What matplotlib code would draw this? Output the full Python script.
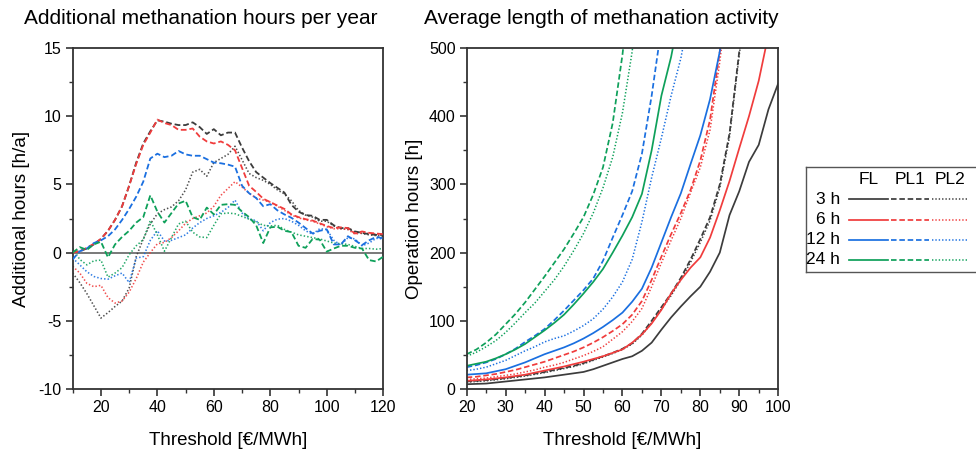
import numpy as np
import matplotlib
matplotlib.use("Agg")
import matplotlib.pyplot as plt
from matplotlib.ticker import MultipleLocator
from matplotlib.lines import Line2D

plt.rcParams['font.family'] = ['Liberation Sans', 'DejaVu Sans']
plt.rcParams['axes.unicode_minus'] = False

# --- left panel: additional hours vs FL (h/a) ---
thr_left = np.arange(10, 120.1, 2.5)

add_3h_pl1 = [0.05, 0.1, 0.3, 0.6, 1.0, 1.6, 2.4, 3.4, 4.9, 6.6, 8.0, 8.9, 9.7, 9.6, 9.45, 9.35,
              9.35, 9.55, 9.2, 8.7, 9.05, 8.6, 8.8, 8.8, 7.7, 6.7, 5.9, 5.5, 5.1,
              4.75, 4.4, 3.5, 3.0, 2.75, 2.7, 2.4, 2.4, 2.0, 1.8, 1.8, 1.55, 1.45, 1.35, 1.3, 1.3]
add_6h_pl1 = [0.0, 0.1, 0.35, 0.65, 1.0, 1.6, 2.4, 3.4, 4.9, 6.5, 7.9, 8.8, 9.75, 9.5, 9.35, 9.0,
              9.0, 9.1, 8.5, 8.15, 8.0, 8.15, 7.9, 7.5, 6.2, 4.9, 4.45, 3.95, 3.7,
              3.45, 3.2, 2.8, 2.6, 2.45, 2.35, 2.15, 1.95, 1.8, 1.85, 1.8, 1.4, 1.55, 1.45, 1.4, 1.35]
add_12h_pl1 = [-0.5, 0.1, 0.3, 0.7, 0.9, 1.2, 1.7, 2.4, 3.2, 4.1, 5.2, 6.9, 7.25, 7.0, 7.1, 7.45,
               7.2, 7.1, 7.1, 6.85, 6.6, 6.55, 6.45, 6.3, 4.9, 4.35, 4.0, 3.4, 3.55,
               3.1, 2.8, 2.55, 2.2, 1.8, 1.4, 1.6, 1.7, 0.6, 0.6, 1.2, 0.9, 0.55, 0.9, 1.15, 1.05]
add_24h_pl1 = [0.0, 0.4, 0.2, 0.6, 0.8, -0.35, 0.6, 1.15, 1.6, 2.2, 2.6, 4.2, 3.0, 2.2, 2.9, 3.6,
               3.8, 2.6, 2.4, 3.3, 2.8, 3.5, 3.55, 3.5, 3.0, 2.6, 2.0, 0.7, 1.85,
               1.9, 1.6, 1.5, 0.5, 0.35, 1.0, 0.95, 0.07, 0.3, 0.5, 0.5, 0.35, 0.3, -0.55, -0.65, -0.3]
add_3h_pl2 = [-1.5, -2.2, -3.0, -3.9, -4.8, -4.4, -3.95, -3.55, -2.6, -0.3, 1.0, 2.1, 2.85, 3.15, 3.35, 3.8,
              4.6, 5.9, 6.1, 5.6, 6.6, 6.9, 7.2, 7.8, 6.8, 5.8, 5.5, 5.3, 5.0,
              4.6, 4.3, 3.8, 3.1, 2.75, 2.6, 2.3, 2.3, 1.95, 1.75, 1.7, 1.5, 1.4, 1.3, 1.25, 1.2]
add_6h_pl2 = [-1.0, -1.5, -2.25, -2.5, -2.4, -3.3, -3.7, -3.55, -2.9, -1.9, -0.7, 0.0, 0.65, 0.75, 1.1, 1.6,
              2.15, 2.5, 2.7, 2.9, 3.4, 4.2, 4.7, 5.2, 4.8, 4.35, 4.0, 3.85, 3.7,
              3.4, 3.1, 2.75, 2.55, 2.4, 2.3, 2.1, 1.9, 1.75, 1.75, 1.7, 1.35, 1.45, 1.4, 1.35, 1.3]
add_12h_pl2 = [-0.4, -0.9, -1.4, -1.75, -1.9, -1.95, -1.7, -1.5, -2.2, -0.4, -0.3, 0.9, 1.6, 0.85, 0.9, 1.1,
               1.3, 1.8, 2.2, 2.5, 2.7, 2.95, 3.3, 3.85, 2.9, 2.45, 2.35, 1.6, 2.2,
               2.45, 2.5, 2.3, 2.0, 1.6, 1.35, 1.75, 1.7, 0.9, 0.55, 1.1, 1.0, 0.5, 0.7, 1.05, 1.0]
add_24h_pl2 = [0.3, -0.5, -0.9, -0.6, -0.55, -1.8, -1.5, -1.1, -0.15, 0.5, 0.95, 2.35, 1.3, 0.1, 1.1, 2.1,
               2.3, 1.5, 1.15, 1.1, 2.0, 2.85, 2.9, 2.85, 2.65, 2.45, 2.25, 2.0, 1.95,
               2.0, 1.7, 1.5, 1.3, 1.2, 1.1, 1.0, 0.85, 0.7, 0.65, 0.6, 0.45, 0.3, 0.3, 0.25, 0.3]

# --- right panel: average length of activity (h) ---
thr_right = np.arange(20, 100.1, 2.5)
nan = np.nan

len_3h_fl = [7, 7.5, 8, 9.5, 11, 12.5, 14, 15.5, 17, 19, 21, 23, 25, 29, 34, 39, 44, 48, 56, 68,
             87, 105, 121, 136, 150, 172, 200, 255, 290, 333, 358, 410, 448]
len_3h_pl1 = [11, 12, 13, 14.5, 16, 18, 20, 22.5, 25, 28, 31, 34, 38, 43, 48, 53, 59, 67, 81, 100,
              120, 140, 163, 190, 220, 252, 300, 375, 495, 600, nan, nan, nan]
len_3h_pl2 = [10, 11, 12, 13.5, 15, 17, 19, 21.5, 24, 27, 30, 33, 37, 42, 47, 52, 58, 66, 79, 97,
              117, 137, 160, 186, 215, 247, 295, 370, 490, 600, nan, nan, nan]
len_6h_fl = [12, 13, 14, 15.5, 17, 19, 21, 24, 27, 30, 33, 36.5, 40, 44, 48, 53, 58, 68, 80, 96,
             116, 140, 160, 178, 193, 222, 262, 305, 353, 400, 452, 520, nan]
len_6h_pl1 = [17, 18, 20, 22, 25, 28, 32, 36, 40, 45, 50, 55, 61, 68, 76, 85, 95, 109, 129, 160,
              194, 227, 258, 292, 335, 395, 495, 600, nan, nan, nan, nan, nan]
len_6h_pl2 = [14, 15, 16, 18, 20, 22, 25, 28, 32, 35, 39, 44, 49, 55, 62, 73, 84, 99, 118, 150,
              185, 218, 250, 288, 325, 380, 480, 600, nan, nan, nan, nan, nan]
len_12h_fl = [21, 22, 23, 26, 29, 34, 39, 45, 51, 56, 61, 67, 74, 82, 91, 101, 112, 128, 147, 178,
              215, 252, 287, 330, 372, 425, 495, 600, nan, nan, nan, nan, nan]
len_12h_pl1 = [32, 35, 39, 44, 51, 59, 69, 78, 88, 101, 115, 130, 145, 162, 188, 222, 255, 290, 345, 430,
               530, nan, nan, nan, nan, nan, nan, nan, nan, nan, nan, nan, nan]
len_12h_pl2 = [27, 29, 32, 37, 42, 49, 56, 62, 69, 74, 78, 85, 93, 103, 117, 135, 157, 190, 245, 310,
               368, 430, 485, 560, nan, nan, nan, nan, nan, nan, nan, nan, nan]
len_24h_fl = [34, 37, 40, 45, 51, 58, 66, 76, 86, 97, 109, 124, 140, 157, 176, 200, 225, 252, 286, 350,
              430, 487, 560, nan, nan, nan, nan, nan, nan, nan, nan, nan, nan]
len_24h_pl1 = [51, 58, 68, 80, 95, 110, 127, 146, 165, 185, 205, 228, 252, 285, 325, 390, 490, 620,
               nan, nan, nan, nan, nan, nan, nan, nan, nan, nan, nan, nan, nan, nan, nan]
len_24h_pl2 = [48, 54, 62, 71, 83, 97, 112, 126, 143, 160, 180, 203, 228, 258, 295, 340, 405, 495, 640,
               nan, nan, nan, nan, nan, nan, nan, nan, nan, nan, nan, nan, nan, nan]

durations = ['3 h', '6 h', '12 h', '24 h']
colors = ['#3c3c3c', '#f03c3c', '#1a6fe0', '#0ea05a']
col_names = ['FL', 'PL1', 'PL2']

ls_solid = '-'
ls_dash = (0, (3.2, 1.6))
ls_dot = (0, (0.9, 1.3))
styles = [ls_solid, ls_dash, ls_dot]
widths = [1.25, 1.25, 1.1]

fig = plt.figure(figsize=(9.76, 4.5), dpi=100)
ax1 = fig.add_axes([72.7 / 976, 1 - 389 / 450, 310.5 / 976, 341 / 450])
ax2 = fig.add_axes([466.7 / 976, 1 - 389 / 450, 311.5 / 976, 341 / 450])

left_pl1 = [add_3h_pl1, add_6h_pl1, add_12h_pl1, add_24h_pl1]
left_pl2 = [add_3h_pl2, add_6h_pl2, add_12h_pl2, add_24h_pl2]

ax1.axhline(0, color='#555555', lw=1.1, zorder=1)
for c, y1, y2 in zip(colors, left_pl1, left_pl2):
    ax1.plot(thr_left, y1, color=c, ls=ls_dash, lw=1.3, zorder=3)
    ax1.plot(thr_left, y2, color=c, ls=ls_dot, lw=1.15, alpha=0.9, zorder=2)

right_series = [
    [len_3h_fl, len_3h_pl1, len_3h_pl2],
    [len_6h_fl, len_6h_pl1, len_6h_pl2],
    [len_12h_fl, len_12h_pl1, len_12h_pl2],
    [len_24h_fl, len_24h_pl1, len_24h_pl2],
]
for c, group in zip(colors, right_series):
    for ys, ls, lw in zip(group, styles, widths):
        ax2.plot(thr_right, ys, color=c, ls=ls, lw=lw)

ax1.set_xlim(10, 120)
ax1.set_ylim(-10, 15)
ax1.xaxis.set_major_locator(MultipleLocator(20))
ax1.xaxis.set_minor_locator(MultipleLocator(10))
ax1.yaxis.set_major_locator(MultipleLocator(5))
ax1.yaxis.set_minor_locator(MultipleLocator(2.5))

ax2.set_xlim(20, 100)
ax2.set_ylim(0, 500)
ax2.xaxis.set_major_locator(MultipleLocator(10))
ax2.xaxis.set_minor_locator(MultipleLocator(5))
ax2.yaxis.set_major_locator(MultipleLocator(100))
ax2.yaxis.set_minor_locator(MultipleLocator(50))

for ax in (ax1, ax2):
    for s in ax.spines.values():
        s.set_color('#333333')
        s.set_linewidth(1.3)
    ax.tick_params(which='major', direction='out', length=5, width=1.2, color='#333333',
                   labelsize=11.5, pad=3)
    ax.tick_params(which='minor', direction='out', length=3, width=1.0, color='#333333')
    ax.set_xlabel('Threshold [€/MWh]', fontsize=13.5, labelpad=12)

ax1.set_ylabel('Additional hours [h/a]', fontsize=13.5, labelpad=6)
ax2.set_ylabel('Operation hours [h]', fontsize=13.5, labelpad=4)

fig.text(201 / 976, 1 - 19 / 450, 'Additional methanation hours per year', fontsize=15,
         ha='center', va='center')
fig.text(601 / 976, 1 - 19 / 450, 'Average length of methanation activity', fontsize=15,
         ha='center', va='center')

# legend drawn as a small table
lg = fig.add_axes([806 / 976, 1 - 272 / 450, 180 / 976, 105 / 450])
lg.set_xlim(806, 986)
lg.set_ylim(272, 167)
lg.set_xticks([])
lg.set_yticks([])
for s in lg.spines.values():
    s.set_color('#555555')
    s.set_linewidth(1.0)
col_x = [(849, 888), (891, 929), (932, 968)]
row_y = [199, 220, 240, 260]
for (xa, xb), name in zip(col_x, col_names):
    lg.text((xa + xb) / 2, 180, name, ha='center', va='center', fontsize=12.5)
for yy, c, d in zip(row_y, colors, durations):
    lg.text(840, yy, d, ha='right', va='center', fontsize=12.5)
    for (xa, xb), ls, lw in zip(col_x, styles, widths):
        lg.add_line(Line2D([xa, xb], [yy, yy], color=c, ls=ls, lw=lw))

fig.savefig('out.png', dpi=100)
